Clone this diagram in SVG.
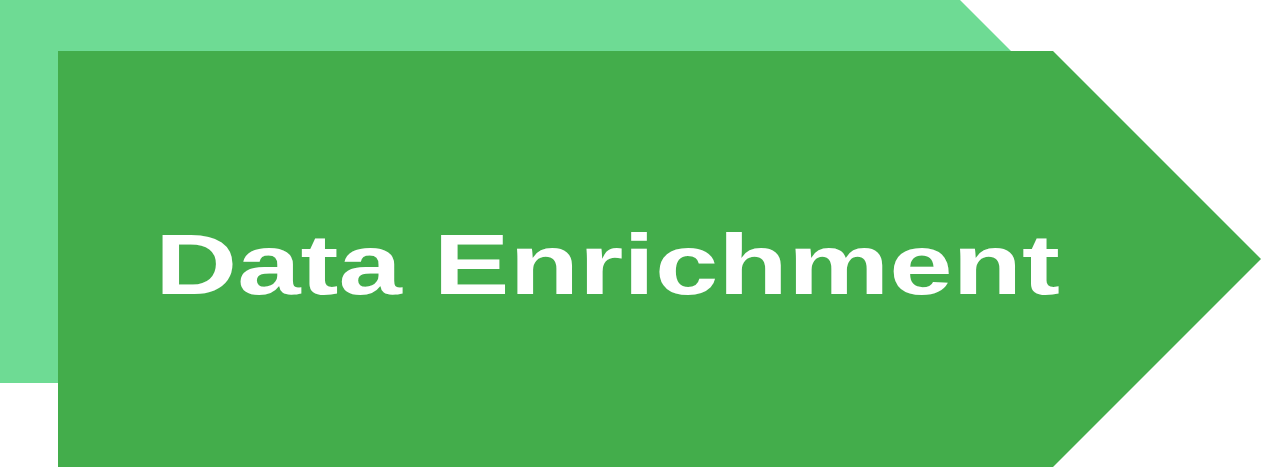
<svg xmlns="http://www.w3.org/2000/svg" width="1261" height="468" viewBox="0 0 1261 468">
  <style>
    .back { fill: #6EDB94; }
    .front { fill: #43AD4B; }
    .label { font-family: "Liberation Sans", Arial, sans-serif; font-weight: bold; font-size: 85px; fill: #FFFFFF; }
  </style>
  <rect width="1261" height="468" fill="#FFFFFF"/>
  <g id="back-arrow">
    <polygon class="back" points="0,0 960,0 1151.5,191.5 960,383 0,383"/>
  </g>
  <g id="front-arrow">
    <polygon class="front" points="58,51 1053,51 1261,259 1053,467 58,467"/>
    <text class="label" x="155" y="294" textLength="905" lengthAdjust="spacingAndGlyphs">Data Enrichment</text>
  </g>
  <g id="connectors"></g>
</svg>
